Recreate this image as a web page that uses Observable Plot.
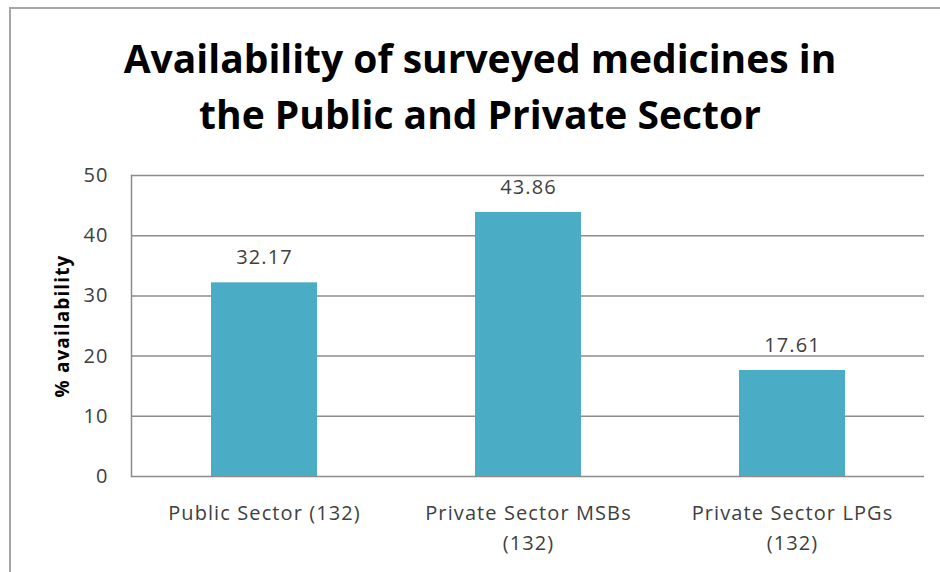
<!DOCTYPE html>
<html>
<head>
<meta charset="utf-8">
<script src="https://cdn.jsdelivr.net/npm/d3@7"></script>
<script src="https://cdn.jsdelivr.net/npm/@observablehq/plot@0.6"></script>
<style>
  html, body { margin: 0; padding: 0; background: #fff; }
  #wrap { position: relative; width: 940px; height: 572px; overflow: hidden; background: #fff; }
  #border { position: absolute; left: 9px; top: 7px; width: 1000px; height: 700px; border-left: 2px solid #a6a6a6; border-top: 2px solid #a6a6a6; box-sizing: border-box; }
  #title { position: absolute; left: 0; top: 30px; width: 960px; text-align: center; font-family: "Open Sans", sans-serif; font-weight: bold; font-size: 39px; line-height: 56px; color: #000; }
  #chart { position: absolute; left: 0; top: 160px; }
  #chart svg text { letter-spacing: 1.1px; }
</style>
</head>
<body>
<div id="wrap">
  <div id="border"></div>
  <div id="title">Availability of surveyed medicines in<br>the Public and Private Sector</div>
  <div id="chart"></div>
</div>
<script>
const categories = ["Public Sector (132)", "Private Sector MSBs (132)", "Private Sector LPGs (132)"];
const tickLabels = ["Public Sector (132)", "Private Sector MSBs\n(132)", "Private Sector LPGs\n(132)"];
const values = [32.17, 43.86, 17.61];
const yTicks = [0, 10, 20, 30, 40, 50];
const yLabel = "% availability";

const data = categories.map((c, i) => ({category: c, value: values[i]}));
const labelOf = new Map(categories.map((c, i) => [c, tickLabels[i]]));

const chart = Plot.plot({
  width: 940,
  height: 412,
  marginTop: 15,
  marginBottom: 96,
  marginLeft: 131,
  marginRight: 16,
  style: {fontFamily: "'Open Sans', sans-serif", fontSize: "20px", color: "#404040", background: "transparent"},
  x: {domain: categories, paddingInner: 0.6, paddingOuter: 0.3, label: null},
  y: {domain: [0, 50], label: null},
  marks: [
    Plot.gridY(yTicks, {stroke: "#8c8c8c", strokeOpacity: 1, strokeWidth: 1.5}),
    Plot.frame({anchor: "left", stroke: "#8c8c8c", strokeWidth: 1.5}),
    Plot.barY(data, {x: "category", y: "value", fill: "#4BACC6"}),
    Plot.text(data, {x: "category", y: "value", text: d => d.value.toFixed(2), dy: -25, fontSize: 20, fill: "#404040"}),
    Plot.axisY(yTicks, {tickSize: 0, tickPadding: 23, fontSize: 20, label: null}),
    Plot.axisX({tickSize: 0, tickPadding: 22, fontSize: 20, tickFormat: d => labelOf.get(d), lineHeight: 1.5, label: null}),
    Plot.text([yLabel], {frameAnchor: "left", textAnchor: "middle", rotate: -90, dx: -69, fontWeight: "bold", fontSize: 19, fill: "#000"})
  ]
});
document.getElementById("chart").appendChild(chart);
</script>
</body>
</html>
